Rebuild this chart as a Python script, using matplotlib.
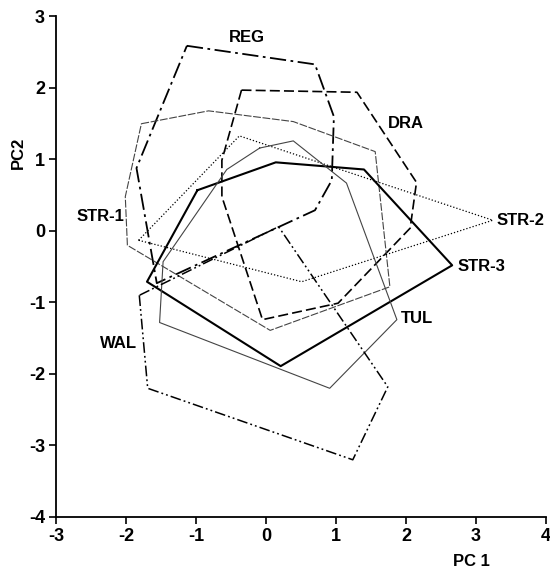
import matplotlib
matplotlib.use("Agg")
import matplotlib.pyplot as plt

plt.rcParams['font.family'] = ['Liberation Sans', 'DejaVu Sans']
plt.rcParams['font.weight'] = 'bold'
plt.rcParams['axes.unicode_minus'] = False

# hull vertices (PC1, PC2)
reg_x = [-1.13, 0.70, 0.97, 0.94, 0.70, -1.56, -1.85]
reg_y = [2.59, 2.33, 1.60, 0.71, 0.29, -0.73, 0.88]

dra_x = [-0.35, 1.30, 2.15, 2.06, 1.03, -0.05, -0.63, -0.63]
dra_y = [1.97, 1.94, 0.68, 0.04, -1.01, -1.24, 0.48, 0.99]

str1_x = [-1.78, -0.82, 0.39, 1.56, 1.77, 0.06, -1.98, -2.01]
str1_y = [1.50, 1.68, 1.53, 1.11, -0.78, -1.39, -0.20, 0.48]

str2_x = [-1.82, -0.38, 3.24, 0.51]
str2_y = [-0.13, 1.33, 0.15, -0.71]

str3_x = [-0.98, 0.14, 1.40, 2.66, 0.21, -1.70]
str3_y = [0.57, 0.96, 0.86, -0.48, -1.89, -0.71]

tul_x = [-0.09, 0.39, 1.15, 1.87, 0.91, -1.52, -1.47, -0.56]
tul_y = [1.16, 1.26, 0.67, -1.24, -2.20, -1.28, -0.43, 0.86]

wal_x = [-1.81, -1.69, 1.24, 1.74, 0.18]
wal_y = [-0.90, -2.20, -3.20, -2.18, 0.06]

labels = ['REG', 'DRA', 'STR-1', 'STR-2', 'STR-3', 'TUL', 'WAL']
label_x = [-0.27, 2.00, -2.37, 3.30, 2.73, 1.93, -2.11]
label_y = [2.71, 1.50, 0.20, 0.14, -0.49, -1.22, -1.58]
label_ha = ['center', 'center', 'center', 'left', 'left', 'left', 'center']

fig = plt.figure(figsize=(5.5, 5.68), dpi=100)
ax = fig.add_axes([0.1018, 0.0898, 0.8909, 0.8812])


def hull(xs, ys, **kw):
    ax.plot(xs + xs[:1], ys + ys[:1], **kw)


hull(reg_x, reg_y, color='black', lw=1.3, dashes=(9, 2.5, 1.5, 2.5))
hull(dra_x, dra_y, color='black', lw=1.2, dashes=(6, 2.5))
hull(str1_x, str1_y, color='#444444', lw=0.8, dashes=(7, 1.5))
hull(str2_x, str2_y, color='black', lw=0.9, dashes=(1, 1.6))
hull(str3_x, str3_y, color='black', lw=1.5)
hull(tul_x, tul_y, color='#444444', lw=0.8)
hull(wal_x, wal_y, color='black', lw=1.1, dashes=(7, 2, 1.2, 2, 1.2, 2))

for t, x, y, ha in zip(labels, label_x, label_y, label_ha):
    ax.text(x, y, t, ha=ha, va='center', fontsize=12, fontweight='bold')

ax.set_xlim(-3, 4)
ax.set_ylim(-4, 3)
ax.set_xticks(range(-3, 5))
ax.set_yticks(range(-4, 4))
ax.spines['top'].set_visible(False)
ax.spines['right'].set_visible(False)
ax.spines['left'].set_linewidth(1.3)
ax.spines['bottom'].set_linewidth(1.3)
ax.tick_params(direction='out', length=5, width=1.2, labelsize=13, pad=3)
for lab in ax.get_xticklabels() + ax.get_yticklabels():
    lab.set_fontweight('bold')

fig.text(471 / 550, 1 - 561 / 568, 'PC 1', ha='center', va='center',
         fontsize=12, fontweight='bold')
fig.text(18 / 550, 1 - 153 / 568, 'PC2', ha='center', va='center',
         rotation=90, fontsize=12, fontweight='bold')

fig.savefig('out.png', dpi=100)
